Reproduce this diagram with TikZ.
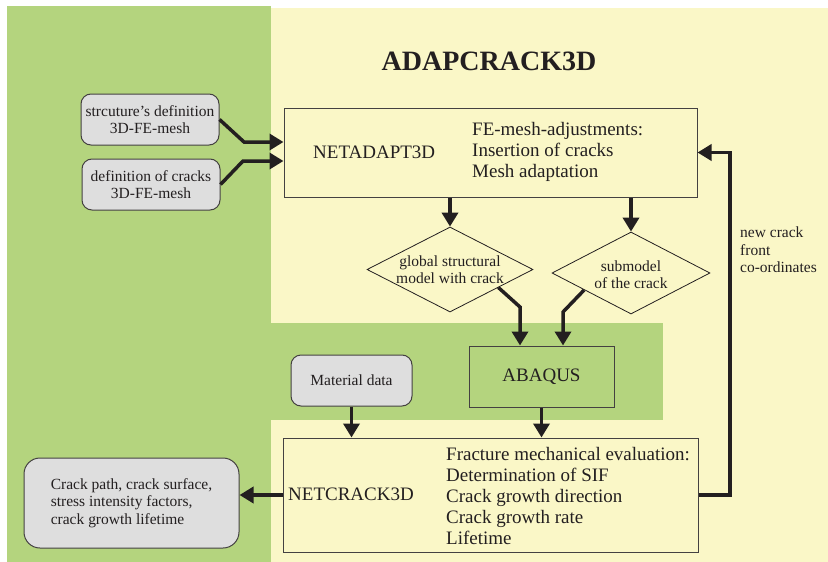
\documentclass[tikz,border=0pt]{standalone}
\usepackage{fontspec}
\setmainfont{Liberation Serif}
\usetikzlibrary{shapes.geometric, arrows.meta, positioning, calc}
\definecolor{bggreen}{HTML}{B4D47E}
\definecolor{bgyellow}{HTML}{FAF7C7}
\definecolor{boxgray}{HTML}{DEDEDE}
\definecolor{inkdark}{HTML}{231F20}
\newcommand{\bigfnt}{\fontsize{19}{21}\selectfont}
\newcommand{\smallfnt}{\fontsize{15.5}{17.5}\selectfont}
\tikzset{
    block/.style={rectangle, draw=inkdark!85, line width=1pt, fill=bgyellow},
    datain/.style={rectangle, draw=inkdark!85, line width=1pt, rounded corners=10pt, fill=boxgray, align=center, text=inkdark, font=\smallfnt},
    decision/.style={diamond, draw=inkdark, line width=0.8pt, fill=bgyellow},
    arrow/.style={line width=3.5pt, draw=inkdark, -{Triangle[length=14pt, width=16pt]}},
    bigtext/.style={inner sep=0pt, text=inkdark, align=left, font=\bigfnt},
    smalltext/.style={inner sep=0pt, text=inkdark, align=center, font=\smallfnt}
}

\begin{document}
\begin{tikzpicture}[x=1pt, y=-1pt]
    \useasboundingbox (0,0) rectangle (828,562);
    % background areas
    \fill[bggreen] (7,6) rectangle (271,562);
    \fill[bgyellow] (271,8) rectangle (828,562);
    \fill[bggreen] (271,323) rectangle (663,420);

    \node[font=\bfseries\fontsize{28}{30}\selectfont, text=inkdark, inner sep=0pt] (title) at (489,61) {ADAPCRACK3D};

    % NETADAPT3D
    \node[block, minimum width=413pt, minimum height=89pt] (netadapt) at (490.5,152.5) {};
    \node[bigtext, anchor=west] (netadaptname) at (313,152.5) {NETADAPT3D};
    \node[bigtext, anchor=west] (adjust) at (472,152) {FE-mesh-adjustments:\\Insertion of cracks\\Mesh adaptation};

    % input data
    \node[datain, minimum width=138pt, minimum height=51pt] (strc) at (150,119.5) {strcuture's definition\\3D-FE-mesh};
    \node[datain, minimum width=138pt, minimum height=51pt] (crdef) at (151,184.5) {definition of cracks\\3D-FE-mesh};

    % models
    \node[decision, minimum width=166pt, minimum height=85pt] (global) at (450,269.5) {};
    \node[smalltext] (globaltxt) at (450,269.5) {global structural\\model with crack};
    \node[decision, minimum width=158pt, minimum height=82pt] (sub) at (631,273) {};
    \node[smalltext] (subtxt) at (631,274.5) {submodel\\of the crack};

    % ABAQUS
    \node[block, fill=bggreen, minimum width=145pt, minimum height=61pt, text=inkdark, font=\bigfnt] (abaqus) at (541.5,376.5) {ABAQUS};
    \node[datain, minimum width=121pt, minimum height=51pt] (material) at (351.5,380.5) {Material data};

    % NETCRACK3D
    \node[block, minimum width=415pt, minimum height=114pt] (netcrack) at (490.5,495) {};
    \node[bigtext, anchor=west] (netcrackname) at (288,494) {NETCRACK3D};
    \node[bigtext, anchor=west] (evaluation) at (446,496) {Fracture mechanical evaluation:\\Determination of SIF\\Crack growth direction\\Crack growth rate\\Lifetime};

    \node[datain, align=left, minimum width=215pt, minimum height=90pt, rounded corners=16pt] (result) at (131.5,503) {Crack path, crack surface,\\stress intensity factors,\\crack growth lifetime};

    \node[smalltext, align=left, anchor=west] (newfront) at (740,250) {new crack\\front\\co-ordinates};

    % connections
    \coordinate (s1) at (244,142);
    \coordinate (s2) at (243,161);
    \draw[arrow] (strc.east) -- (s1) -- (s1 -| netadapt.west);
    \draw[arrow] (crdef.east) -- (s2) -- (s2 -| netadapt.west);
    \draw[arrow] (global.north |- netadapt.south) -- (global.north);
    \draw[arrow] (sub.north |- netadapt.south) -- (sub.north);
    \coordinate (g1) at (520,307);
    \coordinate (g2) at (563,312);
    \draw[arrow] ($(global.east)!0.42!(global.south)$) -- (g1) -- (g1 |- abaqus.north);
    \draw[arrow] ($(sub.west)!0.41!(sub.south)$) -- (g2) -- (g2 |- abaqus.north);
    \draw[arrow] (abaqus.south) -- (abaqus.south |- netcrack.north);
    \draw[arrow] (material.south) -- (material.south |- netcrack.north);
    \draw[arrow] (netcrack.west) -- (netcrack.west -| result.east);
    \coordinate (fb) at (730,0);
    \draw[arrow] (netcrack.east) -- (netcrack.east -| fb) -- (netadapt.east -| fb) -- (netadapt.east);
\end{tikzpicture}
\end{document}
